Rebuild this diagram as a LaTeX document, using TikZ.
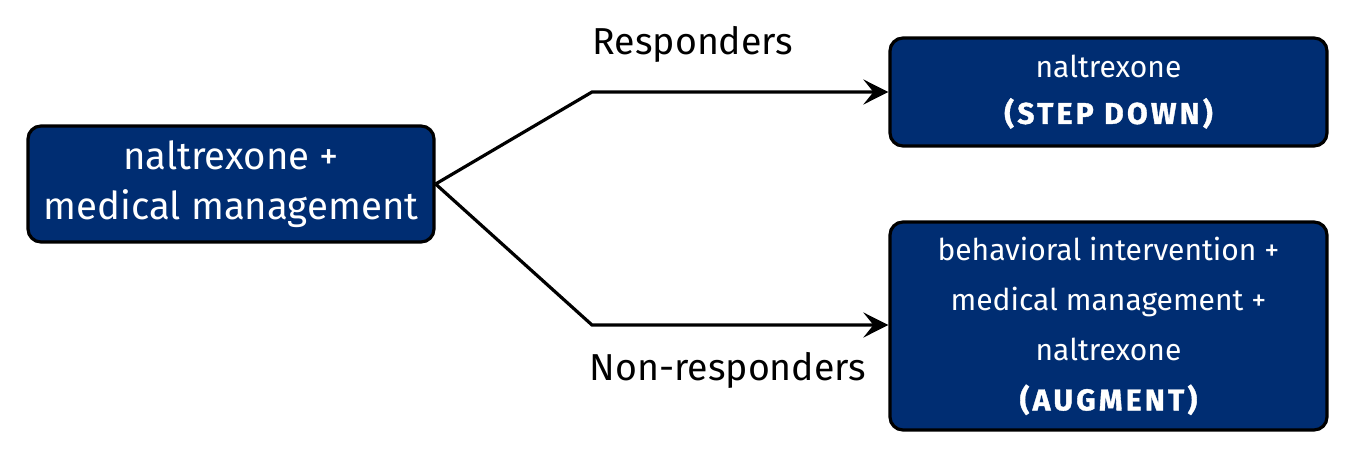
\documentclass[tikz,border=0pt]{standalone}
\usepackage{fontspec}
\setmainfont{Fira Sans}
\newfontfamily\capsfont[LetterSpace=11, FakeBold=1.2]{Fira Sans}
\usetikzlibrary{arrows.meta}
\definecolor{navy}{HTML}{002D72}
\tikzset{
  box/.style={draw=black, line width=3.2pt, fill=navy, rounded corners=13pt, text=white, align=center, inner sep=0pt},
  conn/.style={line width=3.2pt, -{Stealth[length=25pt,width=25pt,inset=10pt]}},
  lbl/.style={font=\fontsize{37.5}{44}\selectfont, inner sep=0pt}
}
\begin{document}
\begin{tikzpicture}[x=1pt,y=-1pt]
\useasboundingbox (0,0) rectangle (1355,458);
\node[box, minimum width=406pt, minimum height=116pt, font=\fontsize{38.4}{50}\selectfont] (start) at (231,184) {naltrexone +\\medical management};
\node[box, minimum width=437pt, minimum height=108pt, font=\fontsize{30}{46}\selectfont] (down) at (1108.5,92) {naltrexone\\{\bfseries\capsfont (STEP DOWN)}};
\node[box, minimum width=437pt, minimum height=208pt, font=\fontsize{30}{50}\selectfont] (aug) at (1108.5,326) {behavioral intervention +\\medical management +\\naltrexone\\{\bfseries\capsfont (AUGMENT)}};
\coordinate (s) at (start.east);
\coordinate (t1) at (592,92);
\coordinate (t2) at (592,325);
\draw[conn] (s) -- (t1) -- (down.west |- t1);
\draw[conn] (s) -- (t2) -- (aug.west |- t2);
\node[lbl] (r) at (693,44) {Responders};
\node[lbl] (n) at (728,370) {Non-responders};
\end{tikzpicture}
\end{document}
